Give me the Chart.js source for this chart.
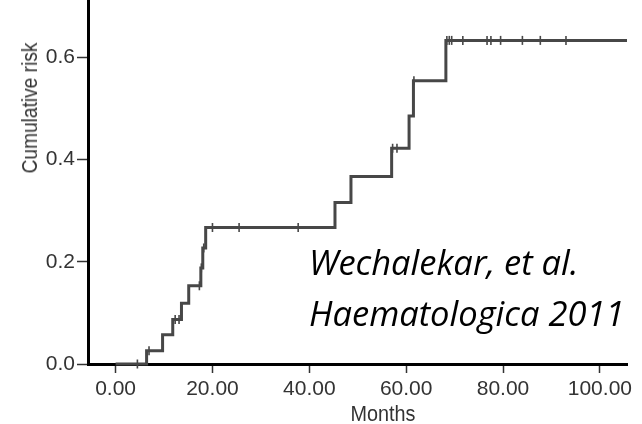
<!DOCTYPE html>
<html>
<head>
<meta charset="utf-8">
<script src="https://cdn.jsdelivr.net/npm/chart.js@4/dist/chart.umd.min.js"></script>
<style>
  body { margin: 0; background: #fff; }
  #wrap { position: relative; width: 642px; height: 424px; overflow: hidden; }
  .axisTxt { position: absolute; font-family: "Liberation Sans", Arial, sans-serif; font-size: 22px; color: #333; white-space: nowrap; line-height: 1; }
  .cite { position: absolute; left: 309px; font-family: "Open Sans", sans-serif; font-style: italic; font-size: 34.5px; color: #000; white-space: nowrap; line-height: 1; }
</style>
</head>
<body>
<div id="wrap">
  <canvas id="km" width="642" height="424"></canvas>
  <div class="axisTxt" id="ytitle" style="left:30px; top:108px; transform: translate(-50%,-50%) rotate(-90deg) scaleX(0.87);">Cumulative risk</div>
  <div class="axisTxt" id="xtitle" style="left:383px; top:403px; transform: translateX(-50%) scaleX(0.9);">Months</div>
  <div class="cite" style="top:245px;">Wechalekar, et al.</div>
  <div class="cite" style="top:296px;">Haematologica 2011</div>
</div>
<script>
// step curve (months, cumulative risk)
var months = [0, 6.4, 9.7, 11.8, 13.6, 15.1, 17.6, 18.0, 18.6, 45.3, 48.6, 57.0, 60.6, 61.5, 68.2, 105.6];
var risk   = [0, 0.026, 0.057, 0.087, 0.119, 0.153, 0.188, 0.227, 0.267, 0.316, 0.367, 0.422, 0.485, 0.554, 0.633, 0.633];

// censored observations
var censorMonths = [4.5, 6.9, 12.3, 13.1, 17.3, 17.7, 18.2, 20.0, 25.5, 37.7, 57.2, 58.1, 61.6,
                    68.4, 68.9, 69.4, 71.7, 76.7, 77.5, 79.5, 84.0, 87.7, 93.0];
var censorRisk   = [0, 0.026, 0.087, 0.087, 0.153, 0.188, 0.227, 0.267, 0.267, 0.267, 0.422, 0.422, 0.554,
                    0.633, 0.633, 0.633, 0.633, 0.633, 0.633, 0.633, 0.633, 0.633, 0.633];

var xTicks = [0, 20, 40, 60, 80, 100];
var yTicks = [0, 0.2, 0.4, 0.6];
var xMin = -5.7, xMax = 105.6;
var yMin = 0, yMax = 0.712;

var tickFont = { family: '"Liberation Sans", Arial, sans-serif', size: 21 };

var curve = months.map(function(m, i){ return { x: m, y: risk[i] }; });
var censored = censorMonths.map(function(m, i){ return { x: m, y: censorRisk[i] }; });

var ctx = document.getElementById('km');
var chart = new Chart(ctx, {
  type: 'line',
  data: {
    datasets: [
      {
        label: 'risk',
        data: curve,
        stepped: 'before',
        borderColor: '#474747',
        borderWidth: 3,
        pointRadius: 0,
        fill: false,
        clip: false
      },
      {
        label: 'censored',
        data: censored,
        showLine: false,
        pointStyle: 'line',
        rotation: 90,
        pointRadius: 4.5,
        pointBorderWidth: 1.6,
        pointBorderColor: '#474747',
        pointBackgroundColor: '#474747',
        clip: false
      }
    ]
  },
  options: {
    responsive: false,
    animation: false,
    devicePixelRatio: 1,
    layout: { autoPadding: false, padding: { left: 0, right: 15, top: 0, bottom: 0 } },
    plugins: { legend: { display: false }, tooltip: { enabled: false } },
    scales: {
      x: {
        type: 'linear',
        min: xMin,
        max: xMax,
        afterBuildTicks: function(scale){ scale.ticks = xTicks.map(function(v){ return { value: v }; }); },
        afterFit: function(scale){ scale.height = 60; scale.paddingLeft = 0; scale.paddingRight = 0; },
        ticks: {
          font: tickFont,
          color: '#333',
          padding: 4,
          maxRotation: 0,
          autoSkip: false,
          callback: function(v){ return v.toFixed(2); }
        },
        grid: { drawOnChartArea: false, drawTicks: true, tickLength: 9, tickWidth: 1.5, tickColor: '#333' },
        border: { display: true, color: '#000', width: 3 }
      },
      y: {
        type: 'linear',
        min: yMin,
        max: yMax,
        afterBuildTicks: function(scale){ scale.ticks = yTicks.map(function(v){ return { value: v }; }); },
        afterFit: function(scale){ scale.width = 88; scale.paddingTop = 0; scale.paddingBottom = 0; },
        ticks: {
          font: tickFont,
          color: '#333',
          padding: 2,
          autoSkip: false,
          callback: function(v){ return v.toFixed(1); }
        },
        grid: { drawOnChartArea: false, drawTicks: true, tickLength: 11, tickWidth: 1.5, tickColor: '#333' },
        border: { display: true, color: '#000', width: 3 }
      }
    }
  }
});
</script>
</body>
</html>
